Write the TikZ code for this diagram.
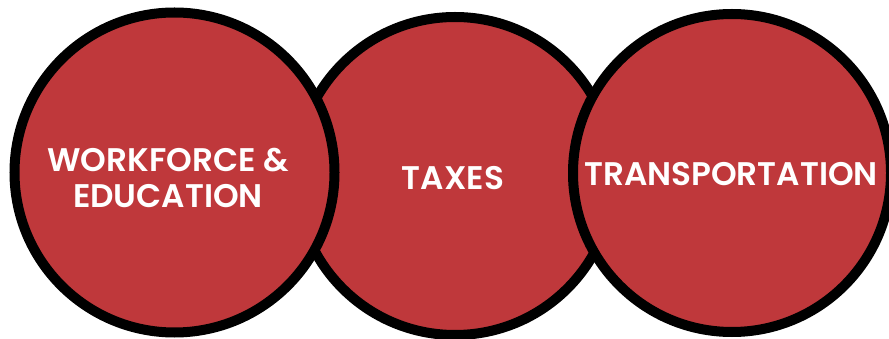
\documentclass[tikz,border=0pt]{standalone}
\usepackage{fontspec}
\setmainfont{Poppins}[BoldFont={Poppins SemiBold}]
\definecolor{discred}{HTML}{BF383B}
\tikzset{disc/.style={circle,draw=black,line width=10pt,fill=discred,inner sep=0pt,text=white},
lbl/.style={text=white,font=\bfseries\fontsize{32.7}{36}\selectfont,align=center,inner sep=0pt}}
\begin{document}
\begin{tikzpicture}[x=1pt,y=-1pt]
\useasboundingbox (0,0) rectangle (889,339);
\node[disc,minimum size=318pt] (mid) at (455,176) {};
\node[disc,minimum size=320pt] (left) at (174.5,172.5) {};
\node[disc,minimum size=318pt] (right) at (732,173) {};
\node[lbl] (t1) at (168,178) {WORKFORCE \&\\EDUCATION};
\node[lbl] (t2) at (453,178) {TAXES};
\node[lbl] (t3) at (731,174) {TRANSPORTATION};
\end{tikzpicture}
\end{document}
